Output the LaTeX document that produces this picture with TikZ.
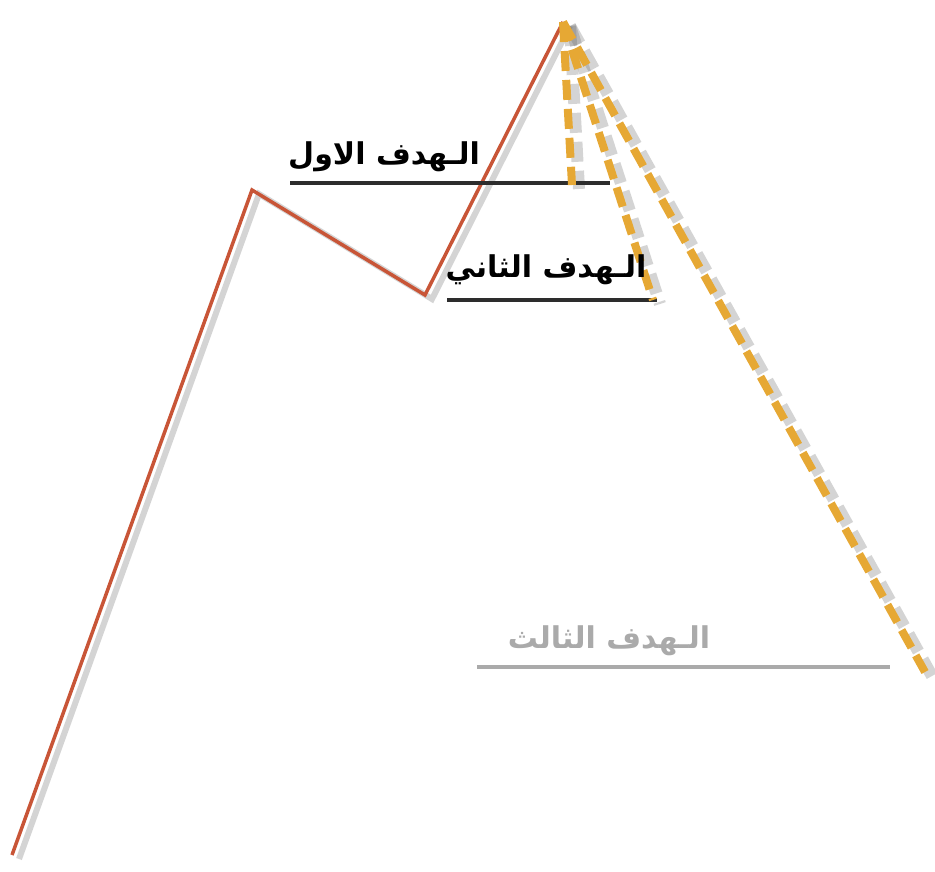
\documentclass[tikz,border=0pt]{standalone}
\usepackage{fontspec}
\newfontfamily\arabicfont[Script=Arabic]{DejaVu Sans}
\TeXXeTstate=1
\definecolor{rise}{RGB}{200,85,55}
\definecolor{goal}{RGB}{230,168,52}
\definecolor{mark}{RGB}{45,45,45}
\definecolor{faint}{RGB}{170,170,170}

\begin{document}
\begin{tikzpicture}[x=1pt,y=-1pt,
    wave/.style={draw=rise,line width=3.5pt},
    target/.style={draw=goal,line width=8pt,dash pattern=on 20pt off 9pt},
    level/.style={draw=mark,line width=4pt},
    shade/.style={draw=black!60,opacity=0.28,line width=#1,
        transform canvas={xshift=7pt,yshift=-4pt}},
    label/.style={font=\arabicfont\bfseries\fontsize{30}{36}\selectfont,inner sep=0pt}]
  \useasboundingbox (0,0) rectangle (935,871);
  \coordinate (start) at (12,855);
  \coordinate (peak) at (252,190);
  \coordinate (dip) at (425,295);
  \coordinate (top) at (563,22);
  \coordinate (endA) at (572,185);
  \coordinate (endB) at (653,300);
  \coordinate (endC) at (925,672);
  \coordinate (aL) at (290,183);
  \coordinate (aR) at (610,183);
  \coordinate (bL) at (447,300);
  \coordinate (bR) at (657,300);
  \coordinate (cL) at (477,667);
  \coordinate (cR) at (890,667);
  % shadows
  \draw[shade=6pt] (start) -- (peak) -- (dip) -- (top);
  \draw[shade=12pt,dash pattern=on 20pt off 9pt] (top) -- (endA);
  \draw[shade=12pt,dash pattern=on 20pt off 9pt] (top) -- (endB);
  \draw[shade=12pt,dash pattern=on 20pt off 9pt] (top) -- (endC);
  % price path
  \draw[wave] (start) -- (peak) -- (dip) -- (top);
  % levels
  \draw[level] (aL) -- (aR);
  \draw[level] (bL) -- (bR);
  \draw[level,draw=faint] (cL) -- (cR);
  % targets
  \draw[target] (top) -- (endA);
  \draw[target] (top) -- (endB);
  \draw[target] (top) -- (endC);
  \node[label] (first) at (384,157) {\beginR الـهدف الاول\endR};
  \node[label] (second) at (546,270) {\beginR الـهدف الثاني\endR};
  \node[label,text=faint] (third) at (609,641) {\beginR الـهدف الثالث\endR};
\end{tikzpicture}
\end{document}
